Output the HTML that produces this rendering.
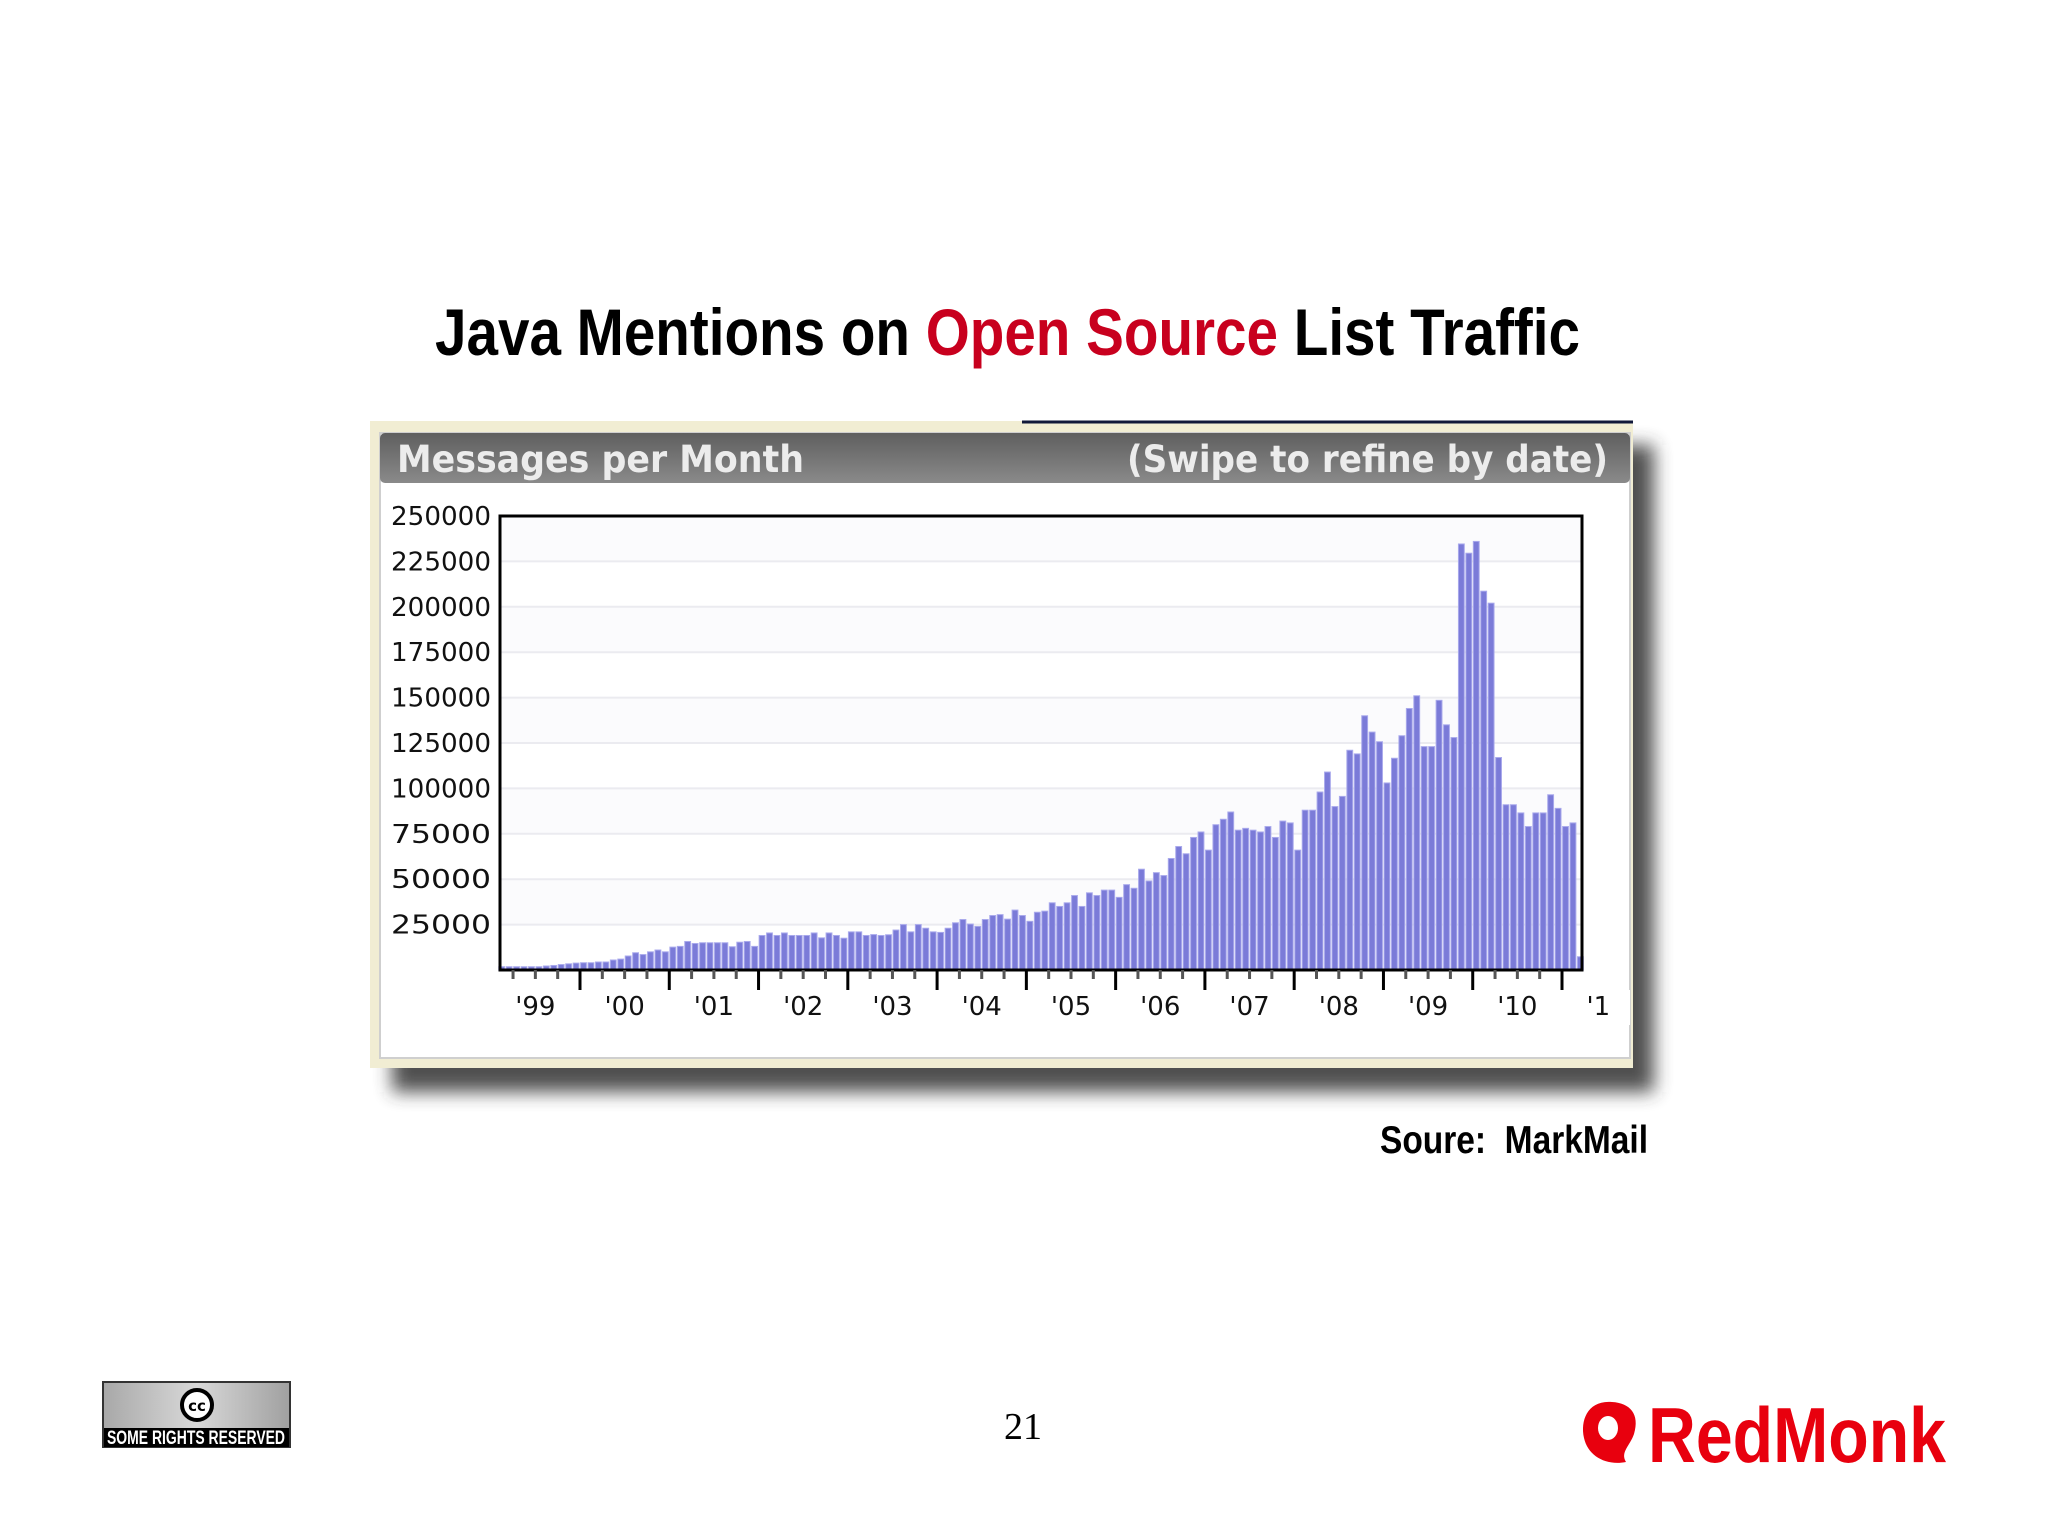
<!DOCTYPE html>
<html><head><meta charset="utf-8"><style>
html,body{margin:0;padding:0;background:#fff;}
svg{display:block;}
</style></head><body>
<svg width="2048" height="1536" viewBox="0 0 2048 1536" xmlns="http://www.w3.org/2000/svg">
<defs>
<filter id="sh" x="-10%" y="-10%" width="130%" height="130%"><feGaussianBlur stdDeviation="9"/></filter>
<linearGradient id="hdr" x1="0" y1="0" x2="0" y2="1"><stop offset="0" stop-color="#5f5f5f"/><stop offset="1" stop-color="#8a8a8a"/></linearGradient>
<linearGradient id="ccg" x1="0" y1="0" x2="1" y2="0"><stop offset="0" stop-color="#a8a8a8"/><stop offset="0.5" stop-color="#d8d8d8"/><stop offset="1" stop-color="#a0a0a0"/></linearGradient>
</defs>
<text x="435" y="355" textLength="1145" lengthAdjust="spacingAndGlyphs" font-family="Liberation Sans, sans-serif" font-weight="bold" font-size="66" fill="#000">Java Mentions on <tspan fill="#c8001e">Open Source</tspan> List Traffic</text>

<g>
<rect x="392" y="445" width="1262" height="647" fill="#333" opacity="0.85" filter="url(#sh)"/>
<rect x="370" y="421" width="1263" height="647" fill="#f1edd3"/>
<line x1="1022" y1="422" x2="1633" y2="422" stroke="#10183a" stroke-width="3"/>
<rect x="380" y="433" width="1250" height="625" fill="#fff" stroke="#cfcfcf" stroke-width="2"/>
<rect x="380" y="433" width="1250" height="50" rx="5" fill="url(#hdr)"/>
<text x="397" y="472" textLength="407" lengthAdjust="spacingAndGlyphs" font-family="DejaVu Sans, sans-serif" font-weight="bold" font-size="37" fill="#ececec">Messages per Month</text>
<text x="1127" y="472" textLength="481" lengthAdjust="spacingAndGlyphs" font-family="DejaVu Sans, sans-serif" font-weight="bold" font-size="37" fill="#ececec">(Swipe to refine by date)</text>
<g id="plot"></g>
</g>

<text x="1380" y="1153" textLength="268" lengthAdjust="spacingAndGlyphs" font-family="Liberation Sans, sans-serif" font-weight="bold" font-size="39" fill="#000" xml:space="preserve">Soure:  MarkMail</text>
<text x="1023" y="1439" text-anchor="middle" font-family="Liberation Serif, serif" font-size="38" fill="#000">21</text>

<g>
<rect x="103" y="1382" width="187" height="65" fill="url(#ccg)" stroke="#333" stroke-width="2"/>
<rect x="104" y="1428" width="185" height="19" fill="#000"/>
<circle cx="197" cy="1405" r="15" fill="#fff" stroke="#000" stroke-width="4"/>
<text x="197" y="1411" text-anchor="middle" font-family="DejaVu Sans, sans-serif" font-weight="bold" font-size="15" fill="#000">cc</text>
<text x="196" y="1444" text-anchor="middle" textLength="178" lengthAdjust="spacingAndGlyphs" font-family="Liberation Sans, sans-serif" font-weight="bold" font-size="19" fill="#fff">SOME RIGHTS RESERVED</text>
</g>

<g>
<path d="M1612 1402 C1588 1400 1580 1420 1584 1438 C1588 1456 1606 1466 1626 1462 C1620 1452 1630 1446 1634 1434 C1640 1414 1630 1403 1612 1402 Z" fill="#e8000e"/>
<ellipse cx="1608" cy="1428" rx="10" ry="12" fill="#fff"/>
<text x="1648" y="1462" textLength="298" lengthAdjust="spacingAndGlyphs" font-family="Liberation Sans, sans-serif" font-weight="bold" font-size="78" fill="#e8000e">RedMonk</text>
</g>
</svg>
<script>
// monthly values (thousands), Feb 1999 .. Feb 2011
const y1999 = [1.8,1.8,1.8,1.8,1.8,1.8,2.2,2.5,3,3.4,3.8];
const y2000 = [4,4,4.4,4.4,5.5,6,7.7,9.5,8.5,10,11,10];
const y2001 = [12.6,13,15.7,14.6,15,15,15,15,12.8,15.3,15.7,13];
const y2002 = [19,20.4,19,20.4,19,19,19,20.4,17.7,20.4,19,17.5];
const y2003 = [21,21,19,19.5,19,19.4,22,25,21,25,23,21];
const y2004 = [20.7,23,26,27.8,25.3,24,27.8,30,30.5,28,33,30];
const y2005 = [26.8,31.8,32.4,37,35,37,41,35,42.5,41,44,44];
const y2006 = [40,47,45,55.5,49,53.6,52,61.4,68,64,73,76];
const y2007 = [66,80,83,87,77,78,77,76,79,73,82,81];
const y2008 = [66,88,88,98,109,90,95.6,121,119,140,131,125.7];
const y2009 = [103,116.6,129,144,151,123,123,148.5,135,128,234.6,229.5];
const y2010 = [236,208.6,202,117,91,91,86.5,79,86.5,86.5,96.5,89];
const y2011 = [79,81,7.3];
const values = [].concat(y1999,y2000,y2001,y2002,y2003,y2004,y2005,y2006,y2007,y2008,y2009,y2010,y2011);
const startMonth = 1; // month index of first value (0 = Jan 1999)
const yTicks = [25000,50000,75000,100000,125000,150000,175000,200000,225000,250000];
const yearLabels = ["'99","'00","'01","'02","'03","'04","'05","'06","'07","'08","'09","'10","'11"];

const NS = "http://www.w3.org/2000/svg";
const plot = document.getElementById('plot');
const L = 500, R = 1582, T = 516, B = 970;
const yMax = 250000;
function yScale(v){ return B - (v / yMax) * (B - T); }
const pitch = (1562 - 580) / 132;
function xMonth(m){ return 580 + (m - 12) * pitch; }
function mk(tag, attrs){ const e = document.createElementNS(NS, tag); for (const k in attrs) e.setAttribute(k, attrs[k]); plot.appendChild(e); return e; }

mk('rect', {x:L, y:T, width:R-L, height:B-T, fill:'#fff'});
yTicks.forEach((t, i) => {
  const y = yScale(t);
  if (i % 2 === 0) { const band = mk('rect', {x:L, y:y-(B-T)/10, width:R-L, height:(B-T)/10, fill:'#fbfbfd'});
    
     }
  const g = mk('line', {x1:L, x2:R, y1:y, y2:y, stroke:'#ebebf0', 'stroke-width':2});
  
  
  const lb = mk('text', {x:491, y:y+9, 'text-anchor':'end', 'font-family':'DejaVu Sans, sans-serif', 'font-size':26, fill:'#111', textLength:100, lengthAdjust:'spacingAndGlyphs'});
  lb.textContent = String(t);
  
  
});

values.forEach((v, i) => {
  const m = startMonth + i;
  const x = xMonth(m) + 0.6;
  const y = yScale(v * 1000);
  const b = mk('rect', {x:x, y:y, width:pitch-1.6, height:B-y, fill:'#7b7bd8', stroke:'#a9a9ec', 'stroke-width':1});
  
  
});

const fr = mk('rect', {x:L, y:T, width:R-L, height:B-T, fill:'none', stroke:'#000', 'stroke-width':3});



for (let yi = 0; yi < yearLabels.length; yi++) {
  const m0 = yi * 12;
  for (let q = 0; q < 12; q += 3) {
    const x = xMonth(m0 + q);
    if (x < L - 1 || x > R) continue;
    const major = q === 0;
    const tk = mk('line', {x1:x, x2:x, y1:B, y2:B + (major ? 20 : 9), stroke: major ? '#000' : '#555', 'stroke-width': 3});
    
    
  }
  const lx = xMonth(m0 + 6);
  const lbl = mk('text', {x:lx, y:1015, 'text-anchor':'middle', 'font-family':'DejaVu Sans, sans-serif', 'font-size':26, fill:'#111'});
  lbl.textContent = yearLabels[yi];
  
  
}
const cover = mk('rect', {x:1612, y:990, width:18, height:35, fill:'#fff'});


</script>
</body></html>
